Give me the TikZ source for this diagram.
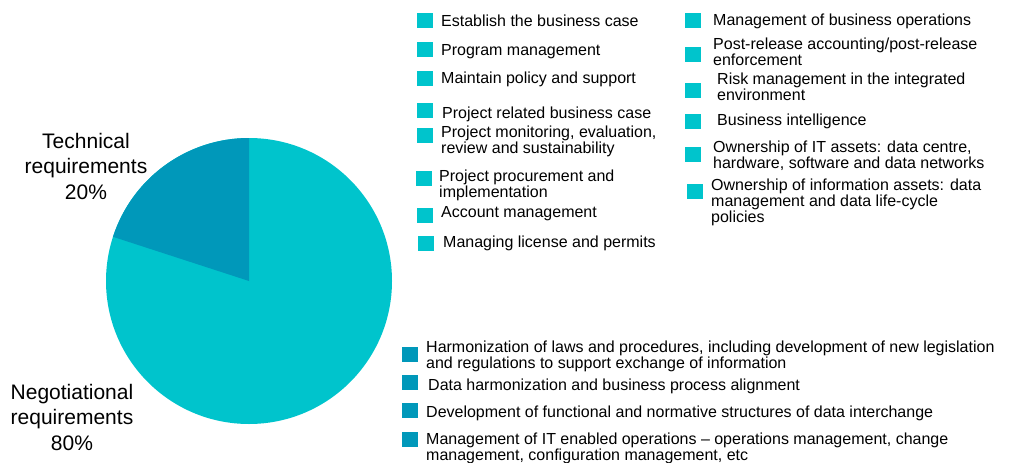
\documentclass[tikz,border=0pt]{standalone}
\usepackage{fontspec}
\setmainfont{Liberation Sans}
\definecolor{cyanlight}{RGB}{0,196,204}
\definecolor{cyandark}{RGB}{0,152,186}
\tikzset{
  sq/.style={minimum width=16pt,minimum height=15pt,inner sep=0pt},
  lsq/.style={sq,fill=cyanlight},
  dsq/.style={sq,fill=cyandark},
  item/.style={anchor=base west,inner sep=0pt,align=left,font=\fontsize{16}{12.5}\selectfont},
  share/.style={anchor=base,inner sep=0pt,align=center,font=\fontsize{21}{25.5}\selectfont}
}
\begin{document}
\begin{tikzpicture}[x=1pt,y=1pt]
\useasboundingbox (0,0) rectangle (1010,-463);
\def\r{143}
\coordinate (c) at (249,-281);
\fill[cyanlight] (c) circle[radius=\r];
\fill[cyandark] (c) -- ++(90:\r) arc[start angle=90,end angle=162,radius=\r] -- cycle;
\node (tech) at (86,-199) [share] {Technical\\requirements\\20\%};
\node (nego) at (72,-450) [share] {Negotiational\\requirements\\80\%};
\node (a1) at (425,-20.5) [lsq] {};
\node (a2) at (425,-49.5) [lsq] {};
\node (a3) at (425,-78.5) [lsq] {};
\node (a4) at (425,-110) [lsq] {};
\node (a5) at (425,-135) [lsq] {};
\node (a6) at (424,-178) [lsq] {};
\node (a7) at (425,-215.5) [lsq] {};
\node (a8) at (426,-243) [lsq] {};
\node (ta1) at (441,-27) [item] {Establish the business case};
\node (ta2) at (441,-55) [item] {Program management};
\node (ta3) at (441,-83) [item] {Maintain policy and support};
\node (ta4) at (442,-118) [item] {Project related business case};
\node (ta5) at (441,-153) [item] {Project monitoring, evaluation,\\review and sustainability};
\node (ta6) at (439,-197) [item] {Project procurement and\\implementation};
\node (ta7) at (441,-217) [item] {Account management};
\node (ta8) at (443,-247) [item] {Managing license and permits};
\node (b1) at (693,-20) [lsq] {};
\node (b2) at (693,-54.5) [lsq] {};
\node (b3) at (693,-90) [lsq] {};
\node (b4) at (693,-121) [lsq] {};
\node (b5) at (693,-154.5) [lsq] {};
\node (b6) at (695,-191.5) [lsq] {};
\node (tb1) at (713,-25) [item] {Management of business operations};
\node (tb2) at (713,-65.5) [item] {Post-release accounting/post-release\\enforcement};
\node (tb3) at (717,-100) [item] {Risk management in the integrated\\environment};
\node (tb4) at (717,-125) [item] {Business intelligence};
\node (tb5) at (713,-168.5) [item] {Ownership of IT assets: data centre,\\hardware, software and data networks};
\node (tb6) at (711,-222) [item] {Ownership of information assets: data\\management and data life-cycle\\policies};
\node (d1) at (410,-354) [dsq] {};
\node (d2) at (410,-382) [dsq] {};
\node (d3) at (410,-410.5) [dsq] {};
\node (d4) at (410,-439.5) [dsq] {};
\node (td1) at (426,-368.5) [item] {Harmonization of laws and procedures, including development of new legislation\\and regulations to support exchange of information};
\node (td2) at (428,-390) [item] {Data harmonization and business process alignment};
\node (td3) at (426,-417) [item] {Development of functional and normative structures of data interchange};
\node (td4) at (426,-460.5) [item] {Management of IT enabled operations -- operations management, change\\management, configuration management, etc};
\end{tikzpicture}
\end{document}
